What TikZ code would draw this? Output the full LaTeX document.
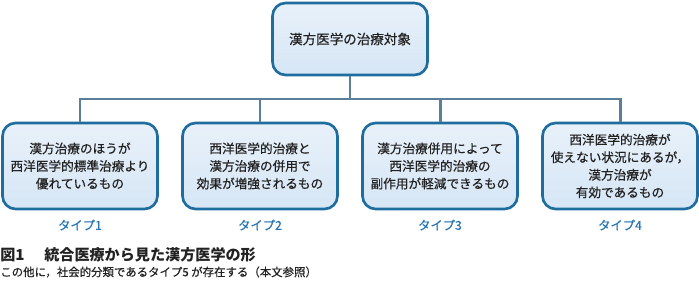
\documentclass[tikz,border=0pt]{standalone}
\usepackage{fontspec}
\setmainfont{Noto Sans CJK JP}
\newfontfamily\medfont[FakeBold=0.45]{Noto Sans CJK JP}
\definecolor{Frame}{HTML}{1E6D9E}
\definecolor{Pale}{HTML}{E8F1FA}
\definecolor{PaleLow}{HTML}{D6E6F5}
\definecolor{Link}{HTML}{5A7F9A}
\definecolor{TypeBlue}{HTML}{2575B3}
\definecolor{Ink}{HTML}{222222}

\begin{document}
\begin{tikzpicture}[x=0.02cm,y=-0.02cm,
  kbox/.style={draw=Frame,line width=1.5pt,rounded corners=0.26cm,top color=Pale,bottom color=PaleLow,
    minimum width=3.1cm,minimum height=1.72cm,align=center,text=Ink,font=\medfont\fontsize{7.2}{10}\selectfont},
  link/.style={draw=Link,line width=1.7pt},
  typelabel/.style={text=TypeBlue,font=\medfont\fontsize{7}{8}\selectfont}]
\useasboundingbox (0,0) rectangle (699,291);
\node[kbox,minimum height=1.44cm,font=\medfont\fontsize{7.7}{10}\selectfont] (goal) at (350,39) {漢方医学の治療対象};
\node[kbox] (t1) at (80,166) {漢方治療のほうが\\西洋医学的標準治療より\\優れているもの};
\node[kbox] (t2) at (260,166) {西洋医学的治療と\\漢方治療の併用で\\効果が増強されるもの};
\node[kbox] (t3) at (440,166) {漢方治療併用によって\\西洋医学的治療の\\副作用が軽減できるもの};
\node[kbox] (t4) at (620,166) {西洋医学的治療が\\使えない状況にあるが，\\漢方治療が\\有効であるもの};
\coordinate (bus) at (350,99);
\draw[link] (goal.south) -- (bus);
\foreach \i in {1,...,4} \draw[link] (bus) -| (t\i.north);
\foreach \i/\x in {1/80,2/260,3/440,4/620} \node[typelabel] (lab\i) at (\x,225) {タイプ\i};
% caption
\node[anchor=west,inner sep=0,text=Ink,font=\fontsize{8.6}{10}\selectfont\bfseries] (cap) at (0,255) {図1\hspace{1.3em}統合医療から見た漢方医学の形};
\node[anchor=west,inner sep=0,text=Ink,font=\medfont\fontsize{6.5}{8}\selectfont] (note) at (0,272) {この他に，社会的分類であるタイプ5 が存在する（本文参照）};
\end{tikzpicture}
\end{document}
